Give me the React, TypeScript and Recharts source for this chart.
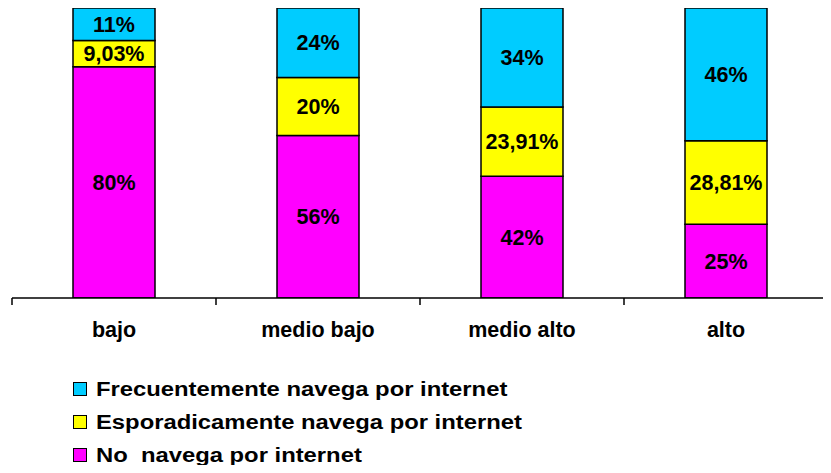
import React from "react";
import { BarChart, Bar, XAxis, YAxis, LabelList } from "recharts";

const categories = ["bajo", "medio bajo", "medio alto", "alto"];
const frecuentemente = [11.2, 24, 34.1, 45.8];
const esporadicamente = [9.03, 20, 23.91, 28.81];
const noNavega = [79.77, 56, 41.99, 25.39];

const seriesNames = {
  frec: "Frecuentemente navega por internet",
  esp: "Esporadicamente navega por internet",
  no: "No  navega por internet",
};
const colors = { frec: "#00CCFF", esp: "#FFFF00", no: "#FF00FF" };

const data = categories.map((c, i) => ({
  name: c,
  no: noNavega[i],
  esp: esporadicamente[i],
  frec: frecuentemente[i],
}));

const FONT = "'Liberation Sans', Arial, Helvetica, sans-serif";

const intFmt = (v: any) => `${Math.round(Number(v))}%`;
const decFmt = (v: any) => `${String(parseFloat(Number(v).toFixed(2))).replace(".", ",")}%`;

const AxisTick = (props: any) => {
  const { x, y, payload, index, visibleTicksCount } = props;
  const half = payload && typeof payload.offset === "number" && payload.offset > 0 ? payload.offset : 102;
  const last = index === (visibleTicksCount ?? categories.length) - 1;
  return (
    <g>
      <line x1={x - half} x2={x - half} y1={y} y2={y + 7} stroke="#000" strokeWidth={1.5} />
      {last && <line x1={x + half} x2={x + half} y1={y} y2={y + 7} stroke="#000" strokeWidth={1.5} />}
      <text
        x={x}
        y={y + 32}
        textAnchor="middle"
        dominantBaseline="central"
        fontFamily={FONT}
        fontWeight="bold"
        fontSize={21.5}
        fill="#000"
      >
        {payload.value}
      </text>
    </g>
  );
};

const labelStyle = { fontFamily: FONT, fontWeight: "bold", fontSize: 21.5, fill: "#000" } as any;

const legendItems = [
  { key: "frec", label: seriesNames.frec, color: colors.frec },
  { key: "esp", label: seriesNames.esp, color: colors.esp },
  { key: "no", label: seriesNames.no, color: colors.no },
];

export default function App() {
  return (
    <div style={{ position: "relative", width: 823, height: 457 }}>
      <BarChart
        width={823}
        height={457}
        data={data}
        margin={{ top: 0, right: 3, left: 4, bottom: 0 }}
        barSize={82}
      >
        <XAxis
          dataKey="name"
          height={167}
          tickSize={0}
          tickMargin={0}
          tickLine={false}
          axisLine={{ stroke: "#000", strokeWidth: 1.5 }}
          tick={<AxisTick />}
          interval={0}
        />
        <YAxis hide domain={[0, 100]} allowDataOverflow />
        <Bar dataKey="no" stackId="a" fill={colors.no} stroke="#000" strokeWidth={1.5} isAnimationActive={false}>
          <LabelList dataKey="no" position="center" formatter={intFmt} style={labelStyle} />
        </Bar>
        <Bar dataKey="esp" stackId="a" fill={colors.esp} stroke="#000" strokeWidth={1.5} isAnimationActive={false}>
          <LabelList dataKey="esp" position="center" formatter={decFmt} style={labelStyle} />
        </Bar>
        <Bar dataKey="frec" stackId="a" fill={colors.frec} stroke="#000" strokeWidth={1.5} isAnimationActive={false}>
          <LabelList dataKey="frec" position="center" formatter={intFmt} style={labelStyle} />
        </Bar>
      </BarChart>
      <div style={{ position: "absolute", left: 65, top: 364.5 }}>
        {legendItems.map((it) => (
          <div key={it.key} style={{ display: "flex", alignItems: "center", height: 33 }}>
            <div
              style={{
                width: 14,
                height: 14,
                boxSizing: "border-box",
                border: "1.5px solid #000",
                background: it.color,
                marginRight: 9,
                flexShrink: 0,
              }}
            />
            <span
              style={{
                fontFamily: FONT,
                fontWeight: "bold",
                fontSize: 20,
                lineHeight: "33px",
                whiteSpace: "pre",
                display: "inline-block",
                transform: "scaleX(1.19)",
                transformOrigin: "left center",
                color: "#000",
              }}
            >
              {it.label}
            </span>
          </div>
        ))}
      </div>
    </div>
  );
}
